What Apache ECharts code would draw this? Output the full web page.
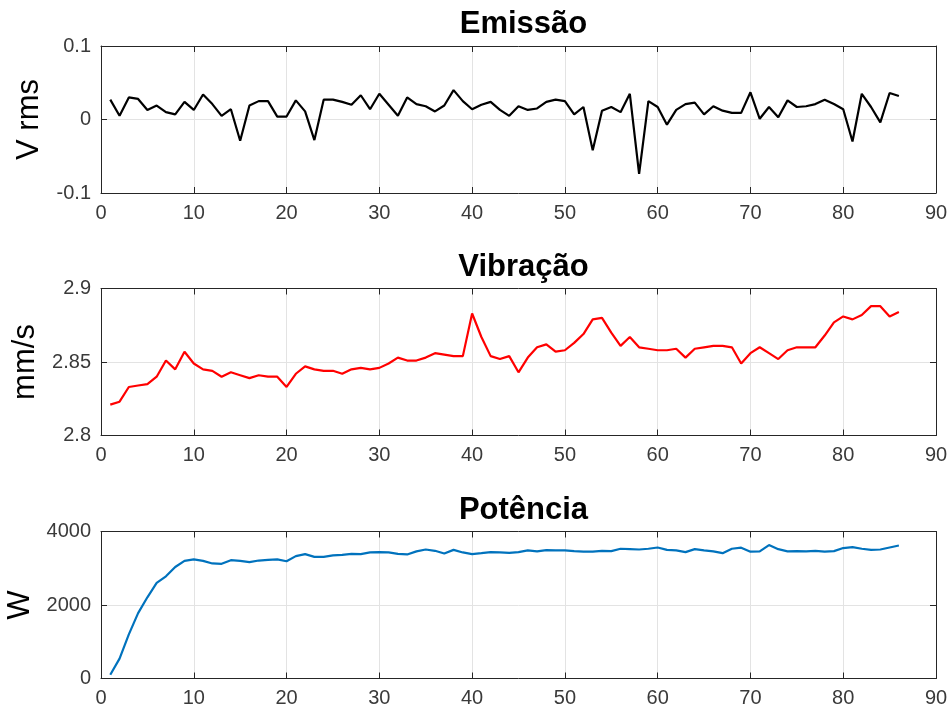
<!DOCTYPE html>
<html>
<head>
<meta charset="utf-8">
<title>Emissão, Vibração, Potência</title>
<script src="https://cdn.jsdelivr.net/npm/echarts@6/dist/echarts.min.js"></script>
<style>
  html, body { margin: 0; padding: 0; background: #ffffff; }
  #chart { width: 951px; height: 707px; }
</style>
</head>
<body>
<div id="chart"></div>
<script>
// Panel titles and axis names
const titles = ['Emissão', 'Vibração', 'Potência'];
const yNames = ['V rms', 'mm/s', 'W'];

// Shared sample axis (measurement index)
const xTicks = [0, 10, 20, 30, 40, 50, 60, 70, 80, 90];

// Acoustic emission, V rms (samples 1..86)
const emissao = [
  0.027, 0.005, 0.030, 0.028, 0.013, 0.019, 0.010, 0.007, 0.024, 0.013,
  0.034, 0.021, 0.005, 0.014, -0.029, 0.019, 0.025, 0.025, 0.004, 0.004,
  0.026, 0.011, -0.028, 0.027, 0.027, 0.024, 0.020, 0.033, 0.014, 0.035,
  0.020, 0.005, 0.030, 0.021, 0.018, 0.011, 0.019, 0.040, 0.025, 0.014,
  0.020, 0.024, 0.013, 0.005, 0.018, 0.013, 0.015, 0.024, 0.027, 0.025,
  0.007, 0.017, -0.042, 0.012, 0.017, 0.010, 0.035, -0.074, 0.025, 0.017,
  -0.007, 0.013, 0.021, 0.023, 0.007, 0.018, 0.012, 0.009, 0.009, 0.037,
  0.001, 0.017, 0.003, 0.026, 0.017, 0.018, 0.021, 0.027, 0.021, 0.014,
  -0.030, 0.035, 0.017, -0.004, 0.036, 0.032
];

// Vibration, mm/s
const vibracao = [
  2.821, 2.823, 2.833, 2.834, 2.835, 2.840, 2.851, 2.845, 2.857, 2.849,
  2.845, 2.844, 2.840, 2.843, 2.841, 2.839, 2.841, 2.840, 2.840, 2.833,
  2.842, 2.847, 2.845, 2.844, 2.844, 2.842, 2.845, 2.846, 2.845, 2.846,
  2.849, 2.853, 2.851, 2.851, 2.853, 2.856, 2.855, 2.854, 2.854, 2.883,
  2.867, 2.854, 2.852, 2.854, 2.843, 2.853, 2.860, 2.862, 2.857, 2.858,
  2.863, 2.869, 2.879, 2.880, 2.870, 2.861, 2.867, 2.860, 2.859, 2.858,
  2.858, 2.859, 2.853, 2.859, 2.860, 2.861, 2.861, 2.860, 2.849, 2.856,
  2.860, 2.856, 2.852, 2.858, 2.860, 2.860, 2.860, 2.868, 2.877, 2.881,
  2.879, 2.882, 2.888, 2.888, 2.881, 2.884
];

// Power, W
const potencia = [
  100, 540, 1200, 1780, 2210, 2600, 2780, 3035, 3200, 3240,
  3200, 3130, 3120, 3220, 3200, 3165, 3210, 3230, 3240, 3190,
  3330, 3385, 3310, 3310, 3350, 3365, 3390, 3385, 3430, 3440,
  3430, 3390, 3375, 3460, 3510, 3475, 3400, 3500, 3430, 3385,
  3410, 3440, 3430, 3420, 3440, 3485, 3460, 3495, 3485, 3485,
  3465, 3450, 3450, 3475, 3465, 3530, 3520, 3510, 3530, 3565,
  3500, 3485, 3440, 3520, 3485, 3460, 3410, 3530, 3560, 3450,
  3460, 3630, 3520, 3460, 3465, 3460, 3475, 3450, 3465, 3550,
  3575, 3530, 3500, 3510, 3565, 3620
];

// Y ranges and tick steps for each panel
const yMin = [-0.1, 2.8, 0];
const yMax = [0.1, 2.9, 4000];
const yStep = [0.1, 0.05, 2000];
const lineColors = ['#000000', '#ff0000', '#0072bd'];
const seriesData = [emissao, vibracao, potencia];

const FONT = '"Liberation Sans", Arial, Helvetica, sans-serif';
const AX = '#262626';
const LBL = '#3a3a3a';
const GRIDC = '#e3e3e3';

const gridTops = [46, 288.5, 531.5];
const gridH = 147;

// plain numbers, no thousands separator
const plain = v => String(Math.round(v * 1000) / 1000);

const grids = [], xAxes = [], yAxes = [], series = [], titleOpts = [];

for (let p = 0; p < 3; p++) {
  grids.push({
    left: 101, right: 15, top: gridTops[p], height: gridH,
    containLabel: false, outerBoundsMode: 'none'
  });

  titleOpts.push({
    text: titles[p],
    left: 518.5,
    textAlign: 'center',
    top: gridTops[p] - 42,
    textStyle: { fontFamily: FONT, fontSize: 31, fontWeight: 'bold', color: '#000' }
  });

  // bottom x axis with labels
  xAxes.push({
    gridIndex: p, type: 'value', position: 'bottom',
    min: xTicks[0], max: xTicks[xTicks.length - 1], interval: 10,
    axisLine: { show: true, onZero: false, lineStyle: { color: AX, width: 1 } },
    axisTick: { show: true, inside: true, length: 6, lineStyle: { color: AX } },
    axisLabel: { show: true, margin: 10, color: LBL, fontFamily: FONT, fontSize: 20, formatter: plain },
    splitLine: { show: true, lineStyle: { color: GRIDC, width: 1 } }
  });
  // mirrored top edge
  xAxes.push({
    gridIndex: p, type: 'value', position: 'top',
    min: xTicks[0], max: xTicks[xTicks.length - 1], interval: 10,
    axisLine: { show: true, onZero: false, lineStyle: { color: AX, width: 1 } },
    axisTick: { show: true, inside: true, length: 6, lineStyle: { color: AX } },
    axisLabel: { show: false },
    splitLine: { show: false }
  });

  yAxes.push({
    gridIndex: p, type: 'value', position: 'left',
    min: yMin[p], max: yMax[p], interval: yStep[p],
    name: yNames[p], nameLocation: 'middle', nameGap: 56, nameRotate: 90,
    nameTextStyle: { fontFamily: FONT, fontSize: 31, color: '#000' },
    axisLine: { show: true, onZero: false, lineStyle: { color: AX, width: 1 } },
    axisTick: { show: true, inside: true, length: 6, lineStyle: { color: AX } },
    axisLabel: { show: true, margin: 10, color: LBL, fontFamily: FONT, fontSize: 20, formatter: plain },
    splitLine: { show: true, lineStyle: { color: GRIDC, width: 1 } }
  });
  yAxes.push({
    gridIndex: p, type: 'value', position: 'right',
    min: yMin[p], max: yMax[p], interval: yStep[p],
    axisLine: { show: true, onZero: false, lineStyle: { color: AX, width: 1 } },
    axisTick: { show: true, inside: true, length: 6, lineStyle: { color: AX } },
    axisLabel: { show: false },
    splitLine: { show: false }
  });

  series.push({
    type: 'line',
    xAxisIndex: p * 2,
    yAxisIndex: p * 2,
    data: seriesData[p].map((v, i) => [i + 1, v]),
    showSymbol: false,
    symbol: 'none',
    lineStyle: { color: lineColors[p], width: 2.2 },
    itemStyle: { color: lineColors[p] },
    animation: false
  });
}

const chart = echarts.init(document.getElementById('chart'), null, { renderer: 'canvas' });
chart.setOption({
  backgroundColor: '#ffffff',
  animation: false,
  title: titleOpts,
  grid: grids,
  xAxis: xAxes,
  yAxis: yAxes,
  series: series
});
</script>
</body>
</html>
